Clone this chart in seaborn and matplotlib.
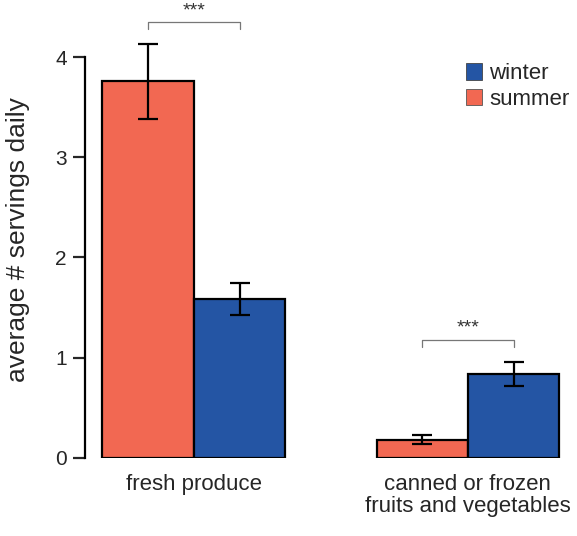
import numpy as np
import pandas as pd
import matplotlib
matplotlib.use('Agg')
import matplotlib.pyplot as plt
from matplotlib.patches import Patch
import seaborn as sns

categories = ['fresh produce', 'canned or frozen\nfruits and vegetables']
seasons = ['summer', 'winter']
summer_mean = [3.76, 0.18]
summer_lo = [3.38, 0.14]
summer_hi = [4.13, 0.23]
winter_mean = [1.58, 0.835]
winter_lo = [1.43, 0.72]
winter_hi = [1.74, 0.96]
y_ticks = [0, 1, 2, 3, 4]

colors = {'summer': '#F26852', 'winter': '#2455A4'}

df = pd.DataFrame({
    'category': categories * 2,
    'season': ['summer'] * 2 + ['winter'] * 2,
    'mean': summer_mean + winter_mean,
    'lo': summer_lo + winter_lo,
    'hi': summer_hi + winter_hi,
})

sns.set_style('white')
plt.rcParams['font.family'] = ['Liberation Sans', 'DejaVu Sans']

fig = plt.figure(figsize=(5.77, 5.36), dpi=100)
ax = fig.add_axes([0.147, 0.146, 0.853, 0.854])

sns.barplot(data=df, x='category', y='mean', hue='season', hue_order=seasons,
            palette=colors, errorbar=None, width=0.667, edgecolor='black',
            linewidth=1.6, saturation=1, legend=False, ax=ax)

# error bars at bar centers
for bars, s in zip(ax.containers, seasons):
    sub = df[df['season'] == s]
    xs = [b.get_x() + b.get_width() / 2 for b in bars]
    m = sub['mean'].values
    ax.errorbar(xs, m, yerr=[m - sub['lo'].values, sub['hi'].values - m],
                fmt='none', ecolor='black', elinewidth=1.6, capsize=7, capthick=1.6)

# significance brackets
for i, (top, drop) in enumerate([(4.35, 4.28), (1.18, 1.11)]):
    x1, x2 = i - 0.1667, i + 0.1667
    ax.plot([x1, x1, x2, x2], [drop, top, top, drop], color='#777777', lw=0.9)
    ax.text(i, top + 0.03, '***', ha='center', va='bottom', fontsize=14, color='#333333')

ax.set_xlim(-0.398, 1.398)
ax.set_ylim(0, 4.57)
ax.set_yticks(y_ticks)
ax.set_xlabel('')
ax.set_ylabel('average # servings daily', fontsize=19)
ax.yaxis.set_label_coords(-0.112, 0.476)
ax.tick_params(axis='y', left=True, length=9, width=1.6, labelsize=15, pad=4)
ax.tick_params(axis='x', bottom=False, labelsize=16, pad=8)
for lbl in ax.get_xticklabels():
    lbl.set_linespacing(1.1)

for side in ['top', 'right', 'bottom']:
    ax.spines[side].set_visible(False)
ax.spines['left'].set_bounds(0, 4)
ax.spines['left'].set_linewidth(1.6)
ax.spines['left'].set_color('black')

handles = [Patch(facecolor=colors['winter'], edgecolor='#444444', linewidth=0.6, label='winter'),
           Patch(facecolor=colors['summer'], edgecolor='#555555', linewidth=0.6, label='summer')]
ax.legend(handles=handles, loc='upper left', bbox_to_anchor=(0.756, 0.881), frameon=False,
          fontsize=16, handlelength=0.75, handleheight=0.75, handletextpad=0.3,
          labelspacing=0.2, borderaxespad=0)

fig.savefig('out.png', dpi=100)
